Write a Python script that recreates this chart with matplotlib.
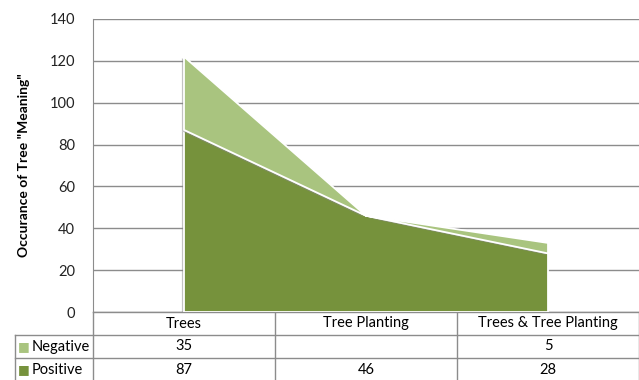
import matplotlib.pyplot as plt
import matplotlib.transforms as mtransforms
import matplotlib.patheffects as pe
import numpy as np

categories = ["Trees", "Tree Planting", "Trees & Tree Planting"]
positive = [87, 46, 28]
negative = [35, None, 5]
series_names = ["Negative", "Positive"]

dark_green = "#76923C"
light_green = "#A9C47F"
grid_gray = "#8C8C8C"

plt.rcParams['font.family'] = ['Lato', 'DejaVu Sans']

fig = plt.figure(figsize=(6.39, 3.80), dpi=100)
ax = fig.add_axes([93 / 639, 1 - 312 / 380, 546 / 639, 293 / 380])

x = np.arange(len(categories))
pos = np.array(positive, dtype=float)
neg = np.array([v if v is not None else 0 for v in negative], dtype=float)

shadow = [pe.SimplePatchShadow(offset=(-1.5, -1), shadow_rgbFace="#888888", alpha=0.5), pe.Normal()]
polys = ax.stackplot(x, pos, neg, colors=[dark_green, light_green],
                     edgecolor="white", linewidth=1.3, zorder=3)
for p in polys:
    p.set_path_effects(shadow)

ax.set_xlim(-0.5, len(categories) - 0.5)
ax.set_ylim(0, 140)
ax.set_yticks(range(0, 141, 20))
ax.set_xticks([])
ax.yaxis.grid(True, color=grid_gray, linewidth=1)
ax.set_axisbelow(True)
ax.tick_params(axis='y', length=0, pad=13, labelsize=10.5, labelcolor="#222222")
for s in ["top", "right", "bottom"]:
    ax.spines[s].set_visible(False)
ax.spines["left"].set_color(grid_gray)
ax.set_ylabel('Occurance of Tree "Meaning"', fontsize=10, fontweight="bold", labelpad=14)

# data table below the plot
row_h = 23 / 293
blend = mtransforms.blended_transform_factory(ax.transData, ax.transAxes)
left_col = (15 - 93) / 546
line_kw = dict(color=grid_gray, linewidth=1, clip_on=False)

# horizontal lines
ax.plot([0, 1], [0, 0], transform=ax.transAxes, **line_kw)
for r in (1, 2, 3):
    ax.plot([left_col, 1], [-r * row_h, -r * row_h], transform=ax.transAxes, **line_kw)
# vertical lines
ax.plot([0, 0], [0, -3 * row_h], transform=ax.transAxes, **line_kw)
ax.plot([left_col, left_col], [-row_h, -3 * row_h], transform=ax.transAxes, **line_kw)
for i in range(len(categories)):
    ax.plot([i + 0.5, i + 0.5], [0, -3 * row_h], transform=blend, **line_kw)

for i, c in enumerate(categories):
    ax.text(i, -0.5 * row_h, c, transform=blend, ha="center", va="center", fontsize=10.5)

rows = [(series_names[0], light_green, negative), (series_names[1], dark_green, positive)]
for r, (name, col, vals) in enumerate(rows, start=1):
    yc = -(r + 0.5) * row_h
    ax.text(left_col + 0.005, yc, "\u25A0", transform=ax.transAxes, ha="left", va="center",
            fontsize=9, color=col, family="DejaVu Sans")
    ax.text(left_col + 0.03, yc, name, transform=ax.transAxes, ha="left", va="center", fontsize=10.5)
    for i, v in enumerate(vals):
        if v is not None:
            ax.text(i, yc, str(v), transform=blend, ha="center", va="center", fontsize=10.5)

fig.savefig("out.png", dpi=100)
